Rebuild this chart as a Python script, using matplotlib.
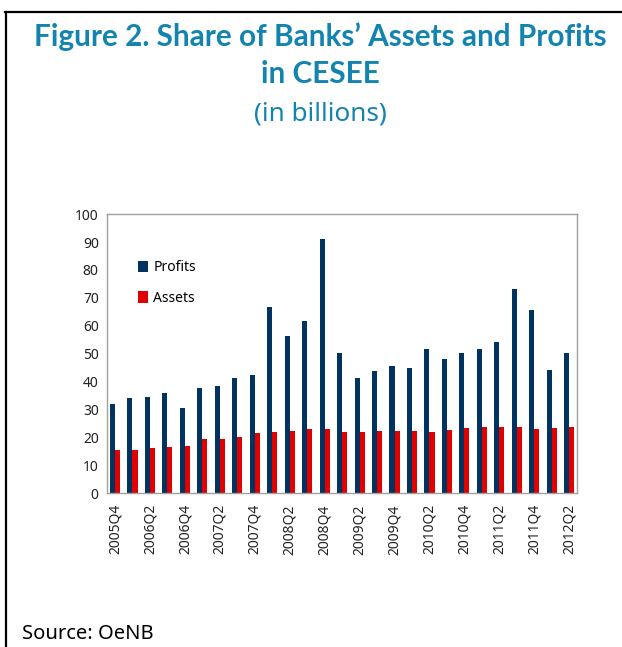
import numpy as np
import matplotlib
matplotlib.use('Agg')
import matplotlib.pyplot as plt
from matplotlib.lines import Line2D

# quarterly data, 2005Q4 - 2012Q2
quarters = ['2005Q4', '2006Q1', '2006Q2', '2006Q3', '2006Q4',
            '2007Q1', '2007Q2', '2007Q3', '2007Q4',
            '2008Q1', '2008Q2', '2008Q3', '2008Q4',
            '2009Q1', '2009Q2', '2009Q3', '2009Q4',
            '2010Q1', '2010Q2', '2010Q3', '2010Q4',
            '2011Q1', '2011Q2', '2011Q3', '2011Q4',
            '2012Q1', '2012Q2']
profits = [32.0, 33.9, 34.6, 35.7, 30.5, 37.7, 38.3, 41.1, 42.2,
           66.6, 56.2, 61.6, 91.0, 50.3, 41.4, 43.8, 45.6, 45.0,
           51.5, 48.1, 50.1, 51.5, 54.0, 73.1, 65.6, 44.2, 50.3]
assets = [15.6, 15.6, 16.3, 16.5, 17.0, 19.2, 19.4, 20.1, 21.6,
          21.8, 22.4, 23.0, 22.8, 21.8, 22.0, 22.4, 22.4, 22.4,
          22.0, 22.6, 23.2, 23.5, 23.5, 23.5, 23.0, 23.2, 23.5]

navy = '#00335F'
red = '#E00000'
teal = '#1384B0'

plt.rcParams['font.family'] = ['Noto Sans', 'DejaVu Sans']

fig = plt.figure(figsize=(6.22, 6.47), dpi=100)

ax = fig.add_axes([0.172, 0.238, 0.756, 0.431])
x = np.arange(len(quarters))
w = 0.29
ax.bar(x, profits, width=-w, align='edge', color=navy, label='Profits')
ax.bar(x, assets, width=w, align='edge', color=red, label='Assets')

ax.set_xlim(-0.46, len(quarters) - 0.54)
ax.set_ylim(0, 100)
ax.set_yticks(np.arange(0, 101, 10))
ax.set_xticks(x[::2])
ax.set_xticklabels(quarters[::2], rotation=90)
ax.tick_params(length=0, labelsize=10, colors='#222222', pad=6)
ax.tick_params(axis='x', pad=8)
for s in ax.spines.values():
    s.set_color('#a0a0a0')
    s.set_linewidth(1)

ax.legend(loc='upper left', bbox_to_anchor=(0.054, 0.856), frameon=False,
          fontsize=10, handlelength=0.75, handleheight=0.85,
          handletextpad=0.35, labelspacing=1.15, borderaxespad=0)

# titles
title_font = ['Lato', 'DejaVu Sans']
xc = 320 / 622
fig.text(xc, 1 - 46 / 647, 'Figure 2. Share of Banks\u2019 Assets and Profits',
         ha='center', va='baseline', fontsize=21.4, fontweight='bold',
         color=teal, family=title_font)
fig.text(xc, 1 - 83 / 647, 'in CESEE', ha='center', va='baseline',
         fontsize=21.4, fontweight='bold', color=teal, family=title_font)
fig.text(xc, 1 - 114 / 647, '(in billions)', ha='center', va='center',
         fontsize=18.8, color=teal)
fig.text(22 / 622, 3 / 647, 'Source: OeNB', ha='left', va='bottom',
         fontsize=14.5, color='black')

# outer frame (top and left edges)
fig.add_artist(Line2D([5 / 622, 1.0], [1 - 12 / 647, 1 - 12 / 647],
                      color='black', lw=1.6, transform=fig.transFigure))
fig.add_artist(Line2D([6 / 622, 6 / 622], [0.0, 1 - 12 / 647],
                      color='black', lw=1.6, transform=fig.transFigure))

fig.savefig('out.png', dpi=100)
